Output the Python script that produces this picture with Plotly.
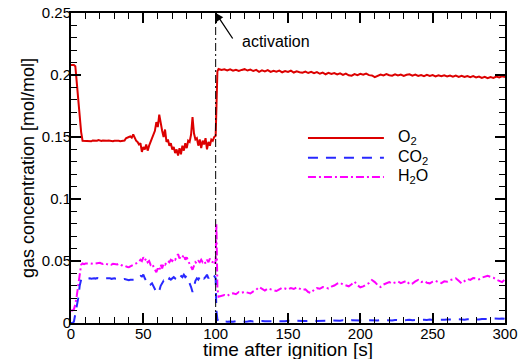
import plotly.graph_objects as go

# ---------------- data ----------------
t_pre = list(range(0, 101))            # 0..100 s, 1 s step
t_trans = [100.5, 101.2]               # activation transient
t_post = list(range(102, 301, 2))      # 102..300 s, 2 s step

o2_pre = [
    0.208, 0.208, 0.208, 0.207, 0.193, 0.179, 0.166, 0.154, 0.147, 0.147,
    0.1465, 0.147, 0.1468, 0.147, 0.1465, 0.1472, 0.147, 0.1468, 0.147, 0.1475,
    0.147, 0.1468, 0.1472, 0.147, 0.1466, 0.147, 0.1472, 0.1468, 0.147, 0.1466,
    0.147, 0.1472, 0.1468, 0.147, 0.1466, 0.147, 0.1468, 0.1472, 0.149, 0.1498,
    0.150, 0.1505, 0.1495, 0.152, 0.149, 0.147, 0.146, 0.144, 0.145, 0.138,
    0.142, 0.140, 0.144, 0.139, 0.143, 0.146, 0.148, 0.152, 0.155, 0.162,
    0.158, 0.168, 0.160, 0.155, 0.150, 0.156, 0.146, 0.148, 0.143, 0.145,
    0.140, 0.142, 0.137, 0.140, 0.135, 0.141, 0.136, 0.143, 0.139, 0.145,
    0.141, 0.147, 0.146, 0.152, 0.166, 0.153, 0.148, 0.149, 0.143, 0.148,
    0.141, 0.147, 0.144, 0.149, 0.140, 0.146, 0.143, 0.148, 0.147, 0.150,
    0.151,
]
o2_trans = [0.180, 0.203]
o2_post = [
    0.2048, 0.2040, 0.2046, 0.2036, 0.2045, 0.2034, 0.2042, 0.2033, 0.2041, 0.2047,
    0.2036, 0.2044, 0.2032, 0.2041, 0.2026, 0.2037, 0.2029, 0.2039, 0.2025, 0.2034,
    0.2026, 0.2036, 0.2022, 0.2031, 0.2024, 0.2035, 0.2020, 0.2030, 0.2023, 0.2019,
    0.2028, 0.2016, 0.2026, 0.2014, 0.2023, 0.2010, 0.2020, 0.2006, 0.2017, 0.2008,
    0.2016, 0.2004, 0.2013, 0.2001, 0.2011, 0.1998, 0.1994, 0.2007, 0.1999, 0.2009,
    0.2002, 0.2011, 0.1999, 0.1996, 0.1982, 0.1995, 0.2004, 0.1997, 0.2007, 0.1998,
    0.1994, 0.2005, 0.1996, 0.2003, 0.1993, 0.2002, 0.2006, 0.1995, 0.2003, 0.1993,
    0.2000, 0.1991, 0.2001, 0.1992, 0.1999, 0.1989, 0.1998, 0.1990, 0.1997, 0.1988,
    0.1996, 0.1987, 0.1995, 0.1985, 0.1994, 0.1984, 0.1992, 0.1983, 0.1991, 0.1981,
    0.1988, 0.1976, 0.1985, 0.1974, 0.1983, 0.1977, 0.1987, 0.1981, 0.1989, 0.1984,
]

co2_pre = [
    0.000, 0.000, 0.001, 0.008, 0.012, 0.020, 0.030, 0.035, 0.036, 0.0362,
    0.036, 0.0358, 0.0362, 0.036, 0.0357, 0.0361, 0.036, 0.0358, 0.0363, 0.036,
    0.0358, 0.0362, 0.036, 0.0357, 0.036, 0.0362, 0.0358, 0.036, 0.0356, 0.0359,
    0.036, 0.0357, 0.0355, 0.0358, 0.0354, 0.0356, 0.0352, 0.0355, 0.035, 0.0348,
    0.0345, 0.0348, 0.035, 0.0346, 0.0352, 0.035, 0.036, 0.037, 0.038, 0.0375,
    0.039, 0.036, 0.034, 0.035, 0.033, 0.031, 0.032, 0.030, 0.027, 0.025,
    0.027, 0.026, 0.030, 0.032, 0.034, 0.033, 0.035, 0.034, 0.036, 0.035,
    0.036, 0.037, 0.036, 0.038, 0.037, 0.039, 0.038, 0.037, 0.039, 0.037,
    0.038, 0.035, 0.033, 0.029, 0.025, 0.030, 0.034, 0.036, 0.035, 0.037,
    0.036, 0.038, 0.036, 0.037, 0.039, 0.036, 0.038, 0.037, 0.039, 0.038,
    0.036,
]
co2_trans = [0.010, 0.003]
co2_post = [
    0.0012, 0.0010, 0.0014, 0.0011, 0.0013, 0.0010, 0.0015, 0.0012, 0.0014, 0.0011,
    0.0013, 0.0016, 0.0012, 0.0015, 0.0013, 0.0017, 0.0014, 0.0012, 0.0016, 0.0014,
    0.0015, 0.0013, 0.0017, 0.0015, 0.0018, 0.0014, 0.0016, 0.0019, 0.0015, 0.0017,
    0.0016, 0.0019, 0.0017, 0.0020, 0.0016, 0.0018, 0.0021, 0.0017, 0.0019, 0.0020,
    0.0018, 0.0021, 0.0019, 0.0022, 0.0020, 0.0018, 0.0023, 0.0021, 0.0019, 0.0022,
    0.0020, 0.0023, 0.0021, 0.0024, 0.0022, 0.0020, 0.0024, 0.0022, 0.0025, 0.0023,
    0.0021, 0.0025, 0.0023, 0.0026, 0.0022, 0.0024, 0.0027, 0.0023, 0.0025, 0.0026,
    0.0024, 0.0027, 0.0025, 0.0028, 0.0024, 0.0026, 0.0029, 0.0025, 0.0027, 0.0028,
    0.0026, 0.0029, 0.0027, 0.0030, 0.0028, 0.0026, 0.0031, 0.0029, 0.0032, 0.0030,
    0.0028, 0.0033, 0.0031, 0.0034, 0.0032, 0.0036, 0.0033, 0.0035, 0.0037, 0.0034,
]

h2o_pre = [
    0.010, 0.010, 0.011, 0.015, 0.022, 0.032, 0.042, 0.047, 0.048, 0.0475,
    0.048, 0.0478, 0.048, 0.0482, 0.0478, 0.048, 0.0476, 0.048, 0.0482, 0.0478,
    0.0485, 0.048, 0.0476, 0.0482, 0.048, 0.0478, 0.047, 0.0475, 0.047, 0.0478,
    0.0475, 0.047, 0.0472, 0.0478, 0.047, 0.0465, 0.0468, 0.0462, 0.0455, 0.0452,
    0.045, 0.0455, 0.046, 0.0465, 0.047, 0.048, 0.049, 0.0495, 0.051, 0.050,
    0.053, 0.0505, 0.052, 0.049, 0.050, 0.047, 0.048, 0.045, 0.043, 0.041,
    0.044, 0.042, 0.047, 0.044, 0.048, 0.047, 0.049, 0.050, 0.049, 0.051,
    0.050, 0.052, 0.051, 0.054, 0.0555, 0.052, 0.054, 0.053, 0.055, 0.051,
    0.053, 0.050, 0.048, 0.046, 0.043, 0.046, 0.049, 0.048, 0.050, 0.049,
    0.051, 0.049, 0.050, 0.048, 0.051, 0.049, 0.052, 0.050, 0.049, 0.047,
    0.050,
]
h2o_trans = [0.080, 0.028]
h2o_post = [
    0.0212, 0.0220, 0.0226, 0.0218, 0.0235, 0.0240, 0.0232, 0.0250, 0.0243, 0.0252,
    0.0245, 0.0238, 0.0255, 0.0268, 0.0290, 0.0275, 0.0262, 0.0278, 0.0270, 0.0266,
    0.0258, 0.0272, 0.0285, 0.0278, 0.0270, 0.0282, 0.0274, 0.0288, 0.0276, 0.0266,
    0.0272, 0.0250, 0.0242, 0.0268, 0.0281, 0.0276, 0.0290, 0.0284, 0.0278, 0.0293,
    0.0302, 0.0318, 0.0325, 0.0310, 0.0300, 0.0296, 0.0312, 0.0333, 0.0305, 0.0288,
    0.0295, 0.0310, 0.0322, 0.0347, 0.0330, 0.0305, 0.0290, 0.0310, 0.0322, 0.0330,
    0.0318, 0.0325, 0.0335, 0.0322, 0.0330, 0.0340, 0.0312, 0.0318, 0.0335, 0.0347,
    0.0330, 0.0338, 0.0325, 0.0320, 0.0333, 0.0340, 0.0328, 0.0322, 0.0336, 0.0333,
    0.0345, 0.0352, 0.0360, 0.0340, 0.0320, 0.0338, 0.0355, 0.0348, 0.0362, 0.0360,
    0.0352, 0.0366, 0.0370, 0.0380, 0.0372, 0.0365, 0.0350, 0.0340, 0.0330, 0.0352,
]

activation_time = 100
series_names = ["O<sub>2</sub>", "CO<sub>2</sub>", "H<sub>2</sub>O"]
x_title = "time after ignition [s]"
y_title = "gas concentration [mol/mol]"

# ---------------- figure ----------------
FONT = "Liberation Sans, Arial, sans-serif"
RED = "rgb(220,0,0)"
BLUE = "rgb(40,40,255)"
MAGENTA = "rgb(255,0,255)"
DASH_CO2 = "10px,8px"
DASH_H2O = "8px,3px,2px,3px"

t_all = t_pre + t_trans + t_post

fig = go.Figure()
fig.add_trace(go.Scatter(x=t_all, y=h2o_pre + h2o_trans + h2o_post, mode="lines",
                         line=dict(color=MAGENTA, width=2, dash=DASH_H2O),
                         showlegend=False))
fig.add_trace(go.Scatter(x=t_all, y=co2_pre + co2_trans + co2_post, mode="lines",
                         line=dict(color=BLUE, width=2, dash=DASH_CO2),
                         showlegend=False))
fig.add_trace(go.Scatter(x=t_all, y=o2_pre + o2_trans + o2_post, mode="lines",
                         line=dict(color=RED, width=2),
                         showlegend=False))

# activation line
fig.add_shape(type="line", x0=activation_time, x1=activation_time, y0=0, y1=0.25,
              xref="x", yref="y", line=dict(color="black", width=1, dash=DASH_H2O))

# arrow + label
fig.add_annotation(x=activation_time, y=0.25, xref="x", yref="y", text="",
                   showarrow=True, arrowhead=2, arrowsize=1.2, arrowwidth=1.3,
                   arrowcolor="black", ax=18, ay=27)
fig.add_annotation(x=117.0, y=0.2269, xref="x", yref="y", text="activation",
                   showarrow=False, xanchor="left", yanchor="middle",
                   font=dict(family=FONT, size=16, color="black"))

# manual legend
legend_styles = [
    (RED, "solid", 0.597),
    (BLUE, DASH_CO2, 0.533),
    (MAGENTA, DASH_H2O, 0.471),
]
for name, (col, dash, yy) in zip(series_names, legend_styles):
    fig.add_shape(type="line", xref="paper", yref="paper", x0=0.546, x1=0.721,
                  y0=yy, y1=yy, line=dict(color=col, width=2, dash=dash))
    fig.add_annotation(xref="paper", yref="paper", x=0.749, y=yy, text=name,
                       showarrow=False, xanchor="left", yanchor="middle",
                       font=dict(family=FONT, size=16, color="black"))

# axis titles
fig.add_annotation(xref="paper", yref="paper", x=0.5, y=-0.087, text=x_title,
                   showarrow=False, xanchor="center", yanchor="middle",
                   font=dict(family=FONT, size=19, color="black"))
fig.add_annotation(xref="paper", yref="paper", x=-0.099, y=0.5, text=y_title,
                   showarrow=False, xanchor="center", yanchor="middle", textangle=-90,
                   font=dict(family=FONT, size=18, color="black"))

axis_common = dict(
    showline=True, linecolor="black", linewidth=2, mirror="allticks",
    ticks="inside", ticklen=10, tickwidth=1.5, tickcolor="black",
    showgrid=False, zeroline=False,
    tickfont=dict(family=FONT, size=15, color="black"),
)

fig.update_xaxes(range=[0, 300], dtick=50, tick0=0, ticklabelstandoff=-4,
                 minor=dict(dtick=10, ticks="inside", ticklen=6, tickwidth=1, tickcolor="black", showgrid=False),
                 **axis_common)
fig.update_yaxes(range=[0, 0.25], dtick=0.05, tick0=0, ticklabelstandoff=-5,
                 minor=dict(dtick=0.01, ticks="inside", ticklen=6, tickwidth=1, tickcolor="black", showgrid=False),
                 **axis_common)

fig.update_layout(
    width=523, height=359,
    margin=dict(l=71, r=18, t=13, b=36, autoexpand=False),
    paper_bgcolor="white", plot_bgcolor="white",
    font=dict(family=FONT, color="black"),
    showlegend=False,
)

fig.write_html("out.html")
